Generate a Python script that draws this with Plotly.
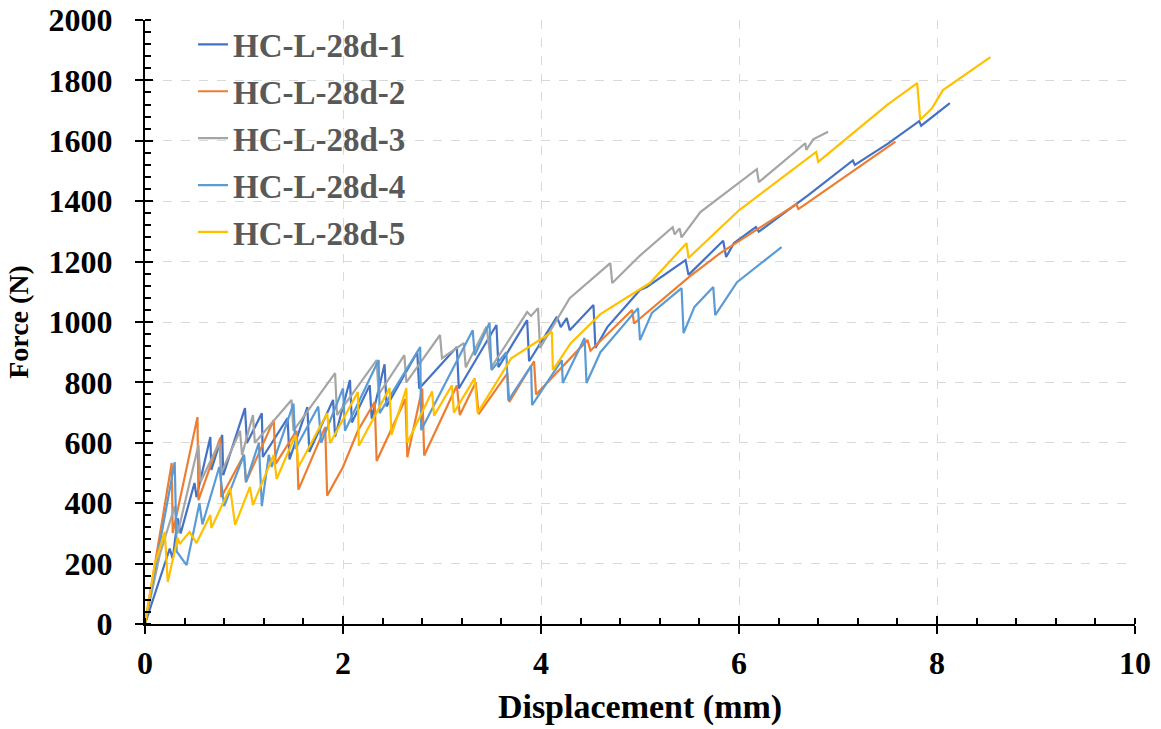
import plotly.graph_objects as go

# ---------------- data ----------------
s1_name = "HC-L-28d-1"
s1_x = [0, 0.1, 0.25, 0.28, 0.33, 0.36, 0.5, 0.52, 0.66, 0.67, 0.78, 0.79, 1.01, 1.03, 1.18, 1.19,
        1.44, 1.46, 1.64, 1.66, 1.9, 1.92, 2.07, 2.09, 2.27, 2.29, 2.42, 2.44, 2.75, 2.77, 3.15, 3.17,
        3.55, 3.57, 3.86, 3.88, 4.16, 4.2, 4.26, 4.29, 4.53, 4.55, 4.67, 5.0, 5.07, 5.46, 5.49, 5.84,
        5.87, 5.95, 6.17, 6.2, 6.7, 7.15, 7.17, 7.5, 7.82, 7.84, 8.13]
s1_y = [0, 100, 250, 215, 350, 300, 467, 420, 619, 510, 626, 493, 715, 599, 698, 553,
        682, 545, 718, 570, 742, 620, 808, 667, 791, 680, 860, 720, 900, 780, 917, 780,
        990, 850, 1006, 870, 1017, 983, 1013, 973, 1056, 914, 983, 1106, 1116, 1205, 1156, 1269,
        1215, 1262, 1314, 1299, 1420, 1535, 1520, 1590, 1665, 1650, 1725]

s2_name = "HC-L-28d-2"
s2_x = [0, 0.27, 0.28, 0.53, 0.54, 0.76, 0.77, 1.0, 1.02, 1.3, 1.32, 1.53, 1.55, 1.82, 1.84, 2.0,
        2.15, 2.32, 2.34, 2.63, 2.65, 2.8, 2.82, 3.15, 3.18, 3.34, 3.37, 3.66, 3.68, 3.93, 3.95,
        4.47, 4.5, 4.92, 4.94, 5.5, 5.81, 6.58, 6.6, 7.58]
s2_y = [0, 533, 301, 685, 410, 616, 420, 560, 470, 675, 530, 640, 445, 652, 425, 520,
        640, 735, 540, 745, 552, 780, 558, 790, 692, 800, 695, 830, 735, 870, 760,
        940, 905, 1040, 995, 1150, 1228, 1390, 1374, 1597]

s3_name = "HC-L-28d-3"
s3_x = [0, 0.15, 0.3, 0.33, 0.54, 0.56, 0.75, 0.77, 0.96, 0.98, 1.09, 1.11, 1.48, 1.5, 1.92, 1.94,
        2.34, 2.36, 2.62, 2.64, 2.98, 3.0, 3.22, 3.24, 3.45, 3.5, 3.86, 3.9, 3.97, 3.99, 4.29, 4.7,
        4.72, 5.0, 5.33, 5.35, 5.4, 5.42, 5.61, 6.18, 6.2, 6.67, 6.68, 6.75, 6.9]
s3_y = [0, 230, 390, 300, 593, 470, 600, 500, 640, 560, 692, 600, 742, 640, 831, 692,
        874, 760, 890, 800, 957, 880, 930, 850, 985, 851, 1033, 1020, 1046, 914, 1079, 1195,
        1129, 1220, 1314, 1290, 1310, 1280, 1364, 1506, 1463, 1592, 1570, 1605, 1630]

s4_name = "HC-L-28d-4"
s4_x = [0, 0.3, 0.32, 0.42, 0.55, 0.58, 0.75, 0.8, 1.0, 1.02, 1.15, 1.18, 1.25, 1.28, 1.5, 1.52,
        1.75, 1.78, 2.0, 2.02, 2.36, 2.37, 2.78, 2.79, 3.31, 3.33, 3.48, 3.5, 3.65, 3.67, 3.9, 3.91,
        4.21, 4.22, 4.44, 4.46, 4.6, 4.98, 5.0, 5.12, 5.42, 5.44, 5.55, 5.74, 5.76, 5.98, 6.43]
s4_y = [0, 536, 240, 195, 400, 330, 520, 390, 560, 470, 600, 390, 560, 520, 730, 580,
        720, 600, 780, 640, 874, 698, 917, 642, 973, 890, 997, 841, 900, 740, 855, 725,
        874, 798, 947, 798, 900, 1046, 940, 1030, 1112, 963, 1050, 1116, 1023, 1132, 1248]

s5_name = "HC-L-28d-5"
s5_x = [0, 0.1, 0.2, 0.23, 0.33, 0.35, 0.45, 0.52, 0.66, 0.67, 0.86, 0.91, 1.06, 1.09, 1.3, 1.33,
        1.52, 1.55, 1.84, 1.87, 2.15, 2.16, 2.47, 2.49, 2.64, 2.65, 2.9, 2.92, 3.1, 3.12, 3.33, 3.36,
        3.7, 4.11, 4.12, 4.3, 4.6, 5.1, 5.47, 5.49, 6.0, 6.78, 6.8, 7.5, 7.8, 7.83, 7.95, 8.06, 8.54]
s5_y = [0, 200, 305, 139, 285, 265, 305, 268, 361, 318, 450, 328, 454, 394, 560, 480,
        626, 520, 698, 599, 768, 590, 781, 626, 781, 600, 770, 690, 790, 700, 814, 699,
        880, 967, 841, 930, 1026, 1129, 1261, 1212, 1370, 1563, 1530, 1720, 1791, 1669, 1708, 1768, 1877]

x_title = "Displacement (mm)"
y_title = "Force (N)"

series = [
    (s1_name, s1_x, s1_y, "#4472C4"),
    (s2_name, s2_x, s2_y, "#ED7D31"),
    (s3_name, s3_x, s3_y, "#A5A5A5"),
    (s4_name, s4_x, s4_y, "#5B9BD5"),
    (s5_name, s5_x, s5_y, "#FFC000"),
]

FONT = "Liberation Serif, Times New Roman, serif"

fig = go.Figure()
for i, (name, xs, ys, col) in enumerate(series):
    fig.add_trace(go.Scatter(x=xs, y=ys, mode="lines", name=name,
                             legendgroup=f"g{i}",
                             line=dict(color=col, width=2.2)))

# empty trace on overlay axes (inside half of major ticks)
fig.add_trace(go.Scatter(x=[], y=[], xaxis="x2", yaxis="y2", showlegend=False,
                         hoverinfo="skip"))

tickfont = dict(family=FONT, size=32, color="black", weight="bold")

fig.update_layout(
    width=1161, height=729,
    margin=dict(l=145, r=26, t=20, b=105, autoexpand=False),
    paper_bgcolor="white", plot_bgcolor="white",
    showlegend=True,
    legend=dict(x=0.0485, y=1.006, xanchor="left", yanchor="top",
                bgcolor="rgba(0,0,0,0)", borderwidth=0,
                tracegroupgap=1, itemwidth=30,
                font=dict(family=FONT, size=33, color="#595959", weight="bold")),
    xaxis=dict(range=[0, 10], tick0=0, dtick=2, showline=True, linecolor="black", linewidth=2,
               ticks="outside", ticklen=8, tickwidth=2, tickcolor="black",
               minor=dict(dtick=0.4, tick0=0, ticks="inside", ticklen=6, tickwidth=2,
                          tickcolor="black", showgrid=False),
               showgrid=True, gridcolor="#D9D9D9", griddash="dash", gridwidth=1,
               zeroline=False, tickfont=tickfont, ticklabelstandoff=2, automargin=False,
               ticklabeloverflow="allow",
               title=dict(text=x_title, font=dict(family=FONT, size=34, color="black", weight="bold"),
                          standoff=14)),
    yaxis=dict(range=[0, 2000], tick0=0, dtick=200, showline=True, linecolor="black", linewidth=2,
               ticks="outside", ticklen=8, tickwidth=2, tickcolor="black",
               minor=dict(dtick=40, tick0=0, ticks="inside", ticklen=6, tickwidth=2,
                          tickcolor="black", showgrid=False),
               showgrid=True, gridcolor="#D9D9D9", griddash="dash", gridwidth=1,
               zeroline=False, tickfont=tickfont, ticklabelstandoff=16, automargin=False,
               ticklabeloverflow="allow",
               title=dict(text=y_title, font=dict(family=FONT, size=28, color="black", weight="bold"),
                          standoff=12)),
    xaxis2=dict(overlaying="x", matches="x", anchor="y2", side="bottom",
                showticklabels=False, showgrid=False, showline=False, zeroline=False,
                ticks="inside", ticklen=8, tickwidth=2, tickcolor="black", tick0=0, dtick=2),
    yaxis2=dict(overlaying="y", matches="y", anchor="x2", side="left",
                showticklabels=False, showgrid=False, showline=False, zeroline=False,
                ticks="inside", ticklen=8, tickwidth=2, tickcolor="black", tick0=0, dtick=200),
)

# remove the default 8px page margin so the figure fills the window exactly
fig.write_html("out.html",
               config={"displayModeBar": False},
               post_script="document.body.style.margin='0';document.body.style.overflow='hidden';")
